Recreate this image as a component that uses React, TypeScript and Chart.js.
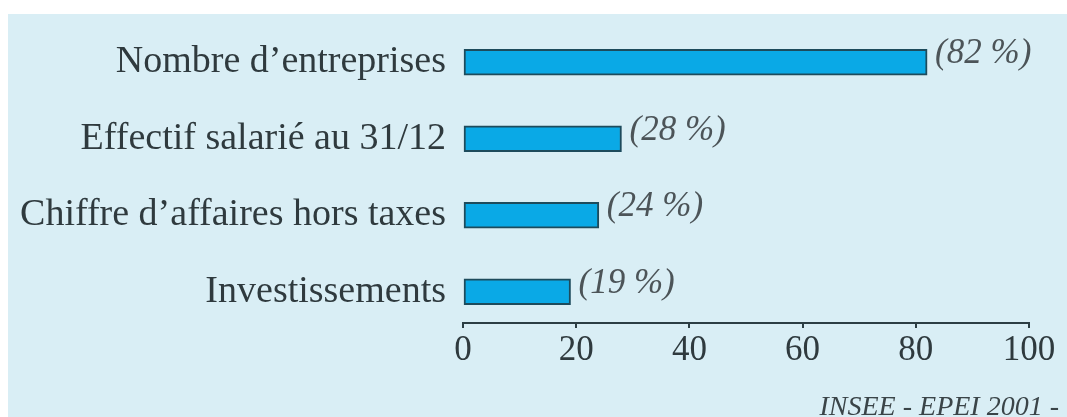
import React, { useEffect, useRef } from "react";
import { Chart, registerables } from "chart.js";

Chart.register(...registerables);

const categories = [
  "Nombre d’entreprises",
  "Effectif salarié au 31/12",
  "Chiffre d’affaires hors taxes",
  "Investissements",
];
const values = [82, 28, 24, 19];
const valueLabels = values.map((v) => `(${v} %)`);
const xTicks = [0, 20, 40, 60, 80, 100];
const sourceText = "INSEE - EPEI 2001 -";

const BG = "#d9eef5";
const TEXT = "#2f3a3e";

const valueLabelPlugin = {
  id: "valueLabels",
  afterDatasetsDraw(chart: any) {
    const ctx = chart.ctx;
    const meta = chart.getDatasetMeta(0);
    ctx.save();
    ctx.font = 'italic 35px "Liberation Serif"';
    ctx.fillStyle = "#4c5458";
    ctx.textBaseline = "alphabetic";
    ctx.textAlign = "left";
    meta.data.forEach((bar: any, i: number) => {
      ctx.fillText(valueLabels[i], bar.x + 8, bar.y + 1);
    });
    ctx.restore();
  },
};

export default function App() {
  const canvasRef = useRef<HTMLCanvasElement | null>(null);

  useEffect(() => {
    if (!canvasRef.current) return;
    const chart = new Chart(canvasRef.current, {
      type: "bar",
      data: {
        labels: categories,
        datasets: [
          {
            data: values,
            backgroundColor: "#0aa9e6",
            borderColor: "#1d4b5c",
            borderWidth: 2,
            borderSkipped: false,
            barThickness: 26,
          },
        ],
      },
      options: {
        indexAxis: "y",
        responsive: false,
        animation: false,
        devicePixelRatio: 1,
        layout: { padding: { top: 10, bottom: 87, left: 0, right: 38 } },
        plugins: {
          legend: { display: false },
          tooltip: { enabled: false },
        },
        scales: {
          y: {
            type: "category",
            position: "left",
            offset: true,
            grid: { display: false, drawTicks: false },
            border: { display: false },
            ticks: {
              padding: 17,
              color: TEXT,
              font: { family: '"Liberation Serif"', size: 38 },
            },
            afterFit: (scale: any) => {
              scale.width = 455;
              scale.paddingTop = 0;
              scale.paddingBottom = 0;
            },
          },
          x: {
            type: "linear",
            position: { y: 3.41 } as any,
            min: 0,
            max: 100,
            afterBuildTicks: (scale: any) => {
              scale.ticks = xTicks.map((v) => ({ value: v }));
            },
            grid: {
              display: true,
              drawOnChartArea: false,
              drawTicks: true,
              tickLength: 4,
              color: "#2c3e44",
              lineWidth: 2,
            },
            border: { display: true, color: "#2c3e44", width: 2 },
            ticks: {
              padding: 3,
              color: TEXT,
              maxRotation: 0,
              font: { family: '"Liberation Serif"', size: 35 },
            },
          },
        },
      },
      plugins: [valueLabelPlugin],
    });
    return () => chart.destroy();
  }, []);

  return (
    <div
      style={{
        position: "fixed",
        left: 8,
        top: 14,
        right: 0,
        bottom: 0,
        background: BG,
        overflow: "hidden",
      }}
    >
      <canvas
        ref={canvasRef}
        width={1059}
        height={403}
        style={{ width: 1059, height: 403, display: "block" }}
      />
      <div
        style={{
          position: "absolute",
          right: 8,
          top: 378,
          fontFamily: '"Liberation Serif"',
          fontStyle: "italic",
          fontSize: 28,
          lineHeight: 1,
          color: "#3a4448",
          whiteSpace: "nowrap",
        }}
      >
        {sourceText}
      </div>
    </div>
  );
}
